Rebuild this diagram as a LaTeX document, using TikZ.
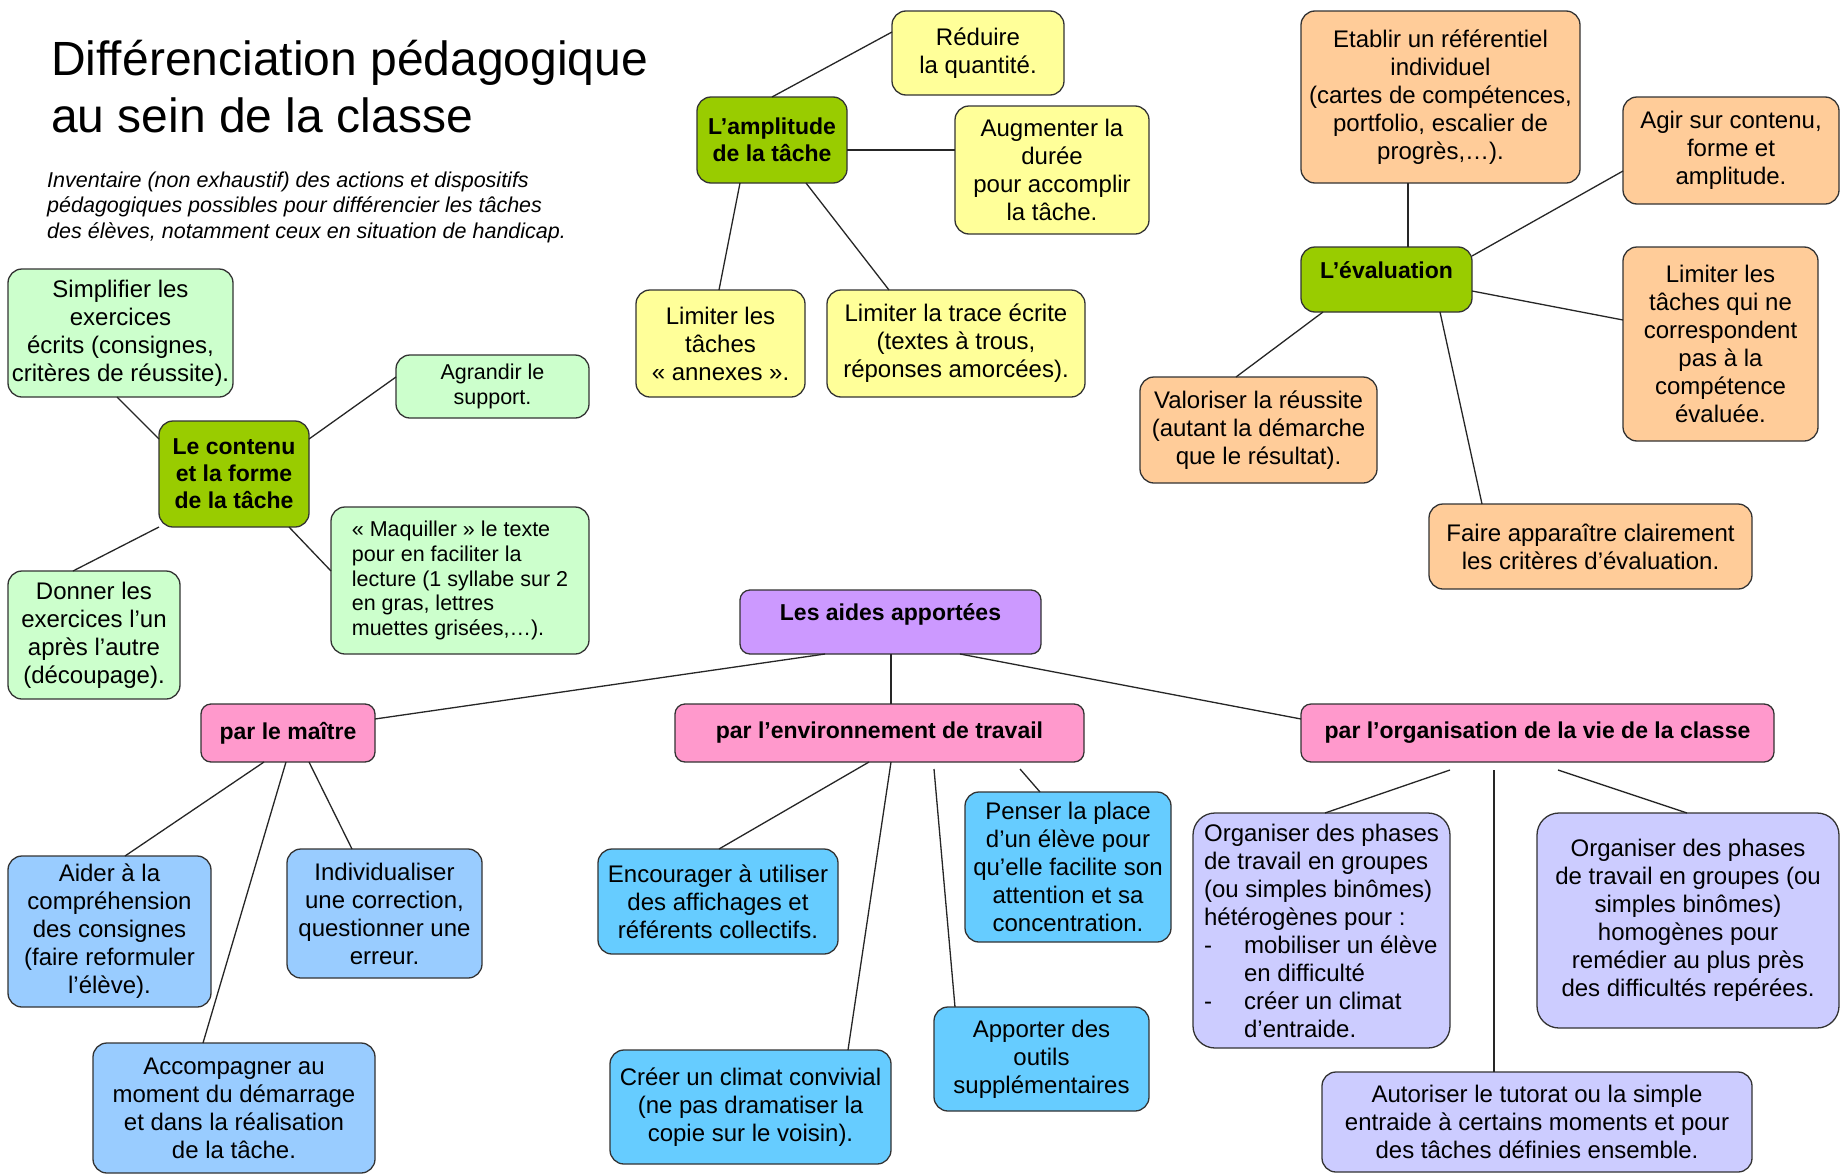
\documentclass[tikz,border=0pt]{standalone}
\usepackage{fontspec}
\setmainfont{Liberation Sans}
\usetikzlibrary{calc}
\definecolor{hub}{HTML}{99CC00}
\definecolor{yel}{HTML}{FFFF99}
\definecolor{ora}{HTML}{FFCC99}
\definecolor{lgr}{HTML}{CCFFCC}
\definecolor{pur}{HTML}{CC99FF}
\definecolor{pnk}{HTML}{FF99CC}
\definecolor{lbl}{HTML}{99CCFF}
\definecolor{cya}{HTML}{66CCFF}
\definecolor{lav}{HTML}{CCCCFF}
\begin{document}
\begin{tikzpicture}[x=1pt,y=-1pt,
  bx/.style={draw=black!80, line width=1.3pt, rounded corners=14pt, align=center, inner sep=2pt,
    font=\fontsize{24}{28}\selectfont},
  hb/.style={bx, fill=hub, font=\fontsize{23}{27}\selectfont\bfseries},
  pk/.style={bx, fill=pnk, rounded corners=10pt, font=\fontsize{23}{27}\selectfont\bfseries},
  conn/.style={draw=black!85, line width=1.3pt},
  wh/.style={minimum width=#1},
  ht/.style={minimum height=#1}]
\useasboundingbox[fill=white] (0,0) rectangle (1847,1175);

% title
\node[anchor=base west, inner sep=0, font=\fontsize{48}{57}\selectfont] (t1) at (51,75) {Différenciation pédagogique};
\node[anchor=base west, inner sep=0, font=\fontsize{48}{57}\selectfont] (t2) at (51,132) {au sein de la classe};
\node[anchor=base west, inner sep=0, font=\fontsize{21.5}{25}\selectfont\itshape] (s1) at (47,187) {Inventaire (non exhaustif) des actions et dispositifs};
\node[anchor=base west, inner sep=0, font=\fontsize{21.5}{25}\selectfont\itshape] (s2) at (47,212) {pédagogiques possibles pour différencier les tâches};
\node[anchor=base west, inner sep=0, font=\fontsize{21.5}{25}\selectfont\itshape] (s3) at (47,238) {des élèves, notamment ceux en situation de handicap.};

% amplitude
\node[hb, wh=150, ht=86] (amp) at (772,140) {L’amplitude\\de la tâche};
\node[bx, fill=yel, wh=172, ht=84] (red) at (978,53) {Réduire\\la quantité.};
\node[bx, fill=yel, wh=194, ht=128] (aug) at (1052,170) {Augmenter la\\durée\\pour accomplir\\la tâche.};
\node[bx, fill=yel, wh=169, ht=107] (limt) at (720.5,343.5) {Limiter les\\tâches\\« annexes ».};
\node[bx, fill=yel, wh=258, ht=107] (limtr) at (956,343.5) {Limiter la trace écrite\\(textes à trous,\\réponses amorcées).};

% contenu
\node[hb, wh=150, ht=106] (cont) at (234,474) {Le contenu\\et la forme\\de la tâche};
\node[bx, fill=lgr, wh=225, ht=128] (simp) at (120.5,333) {Simplifier les\\exercices\\écrits (consignes,\\critères de réussite).};
\node[bx, fill=lgr, wh=193, ht=63, font=\fontsize{21.5}{24.7}\selectfont] (agr) at (492.5,386.5) {Agrandir le\\support.};
\node[bx, fill=lgr, wh=172, ht=128] (don) at (94,635) {Donner les\\exercices l’un\\après l’autre\\(découpage).};
\node[bx, fill=lgr, wh=258, ht=147, align=left, font=\fontsize{21.5}{24.7}\selectfont] (maq) at (460,580.5) {« Maquiller » le texte\\pour en faciliter la\\lecture (1 syllabe sur 2\\en gras, lettres\\muettes grisées,…).};

% evaluation
\node[hb, wh=171, ht=65, text depth=18pt] (eval) at (1386.5,279.5) {L’évaluation};
\node[bx, fill=ora, wh=279, ht=172] (etab) at (1440.5,97) {Etablir un référentiel\\individuel\\(cartes de compétences,\\portfolio, escalier de\\progrès,…).};
\node[bx, fill=ora, wh=216, ht=107] (agir) at (1731,150.5) {Agir sur contenu,\\forme et\\amplitude.};
\node[bx, fill=ora, wh=195, ht=194] (limc) at (1720.5,344) {Limiter les\\tâches qui ne\\correspondent\\pas à la\\compétence\\évaluée.};
\node[bx, fill=ora, wh=237, ht=106] (val) at (1258.5,430) {Valoriser la réussite\\(autant la démarche\\que le résultat).};
\node[bx, fill=ora, wh=323, ht=85] (faire) at (1590.5,546.5) {Faire apparaître clairement\\les critères d’évaluation.};

% aides
\node[bx, fill=pur, rounded corners=10pt, wh=301, ht=64, text depth=20pt, font=\fontsize{23}{27}\selectfont\bfseries] (aides) at (890.5,622) {Les aides apportées};
\node[pk, wh=174, ht=58] (mai) at (288,733) {par le maître};
\node[pk, wh=409, ht=58] (env) at (879.5,733) {par l’environnement de travail};
\node[pk, wh=473, ht=58] (org) at (1537.5,733) {par l’organisation de la vie de la classe};

% maitre
\node[bx, fill=lbl, wh=203, ht=151] (aid) at (109.5,931.5) {Aider à la\\compréhension\\des consignes\\(faire reformuler\\l’élève).};
\node[bx, fill=lbl, wh=195, ht=129] (ind) at (384.5,913.5) {Individualiser\\une correction,\\questionner une\\erreur.};
\node[bx, fill=lbl, wh=282, ht=130] (acc) at (234,1108) {Accompagner au\\moment du démarrage\\et dans la réalisation\\de la tâche.};

% environnement
\node[bx, fill=cya, wh=240, ht=105] (enc) at (718,901.5) {Encourager à utiliser\\des affichages et\\référents collectifs.};
\node[bx, fill=cya, wh=281, ht=114] (cre) at (750.5,1107) {Créer un climat convivial\\(ne pas dramatiser la\\copie sur le voisin).};
\node[bx, fill=cya, wh=215, ht=104] (app) at (1041.5,1059) {Apporter des\\outils\\supplémentaires};
\node[bx, fill=cya, wh=206, ht=150] (pen) at (1068,867) {Penser la place\\d’un élève pour\\qu’elle facilite son\\attention et sa\\concentration.};

% organisation
\node[bx, fill=lav, rounded corners=22pt, wh=257, ht=235, align=left] (het) at (1321.5,930.5) {Organiser des phases\\de travail en groupes\\(ou simples binômes)\\hétérogènes pour :\\\makebox[40pt][l]{-}mobiliser un élève\\\hspace*{40pt}en difficulté\\\makebox[40pt][l]{-}créer un climat\\\hspace*{40pt}d’entraide.};
\node[bx, fill=lav, rounded corners=22pt, wh=302, ht=215] (hom) at (1688,920.5) {Organiser des phases\\de travail en groupes (ou\\simples binômes)\\homogènes pour\\remédier au plus près\\des difficultés repérées.};
\node[bx, fill=lav, wh=430, ht=100] (aut) at (1537,1122) {Autoriser le tutorat ou la simple\\entraide à certains moments et pour\\des tâches définies ensemble.};

% connectors
\draw[conn] ($(amp.center)+(0,-43)$) -- ($(red.center)+(-86,-21)$);
\draw[conn] ($(amp.center)+(75,10)$) -- ($(aug.center)+(-97,-20)$);
\draw[conn] ($(amp.center)+(-32,43)$) -- ($(limt.center)+(-1.5,-53.5)$);
\draw[conn] ($(amp.center)+(34,43)$) -- ($(limtr.center)+(-67,-53.5)$);

\draw[conn] ($(cont.center)+(-75,-35)$) -- ($(simp.center)+(-3.5,64)$);
\draw[conn] ($(cont.center)+(75,-35)$) -- ($(agr.center)+(-96.5,-9.5)$);
\draw[conn] ($(cont.center)+(-75,53)$) -- ($(don.center)+(-21,-64)$);
\draw[conn] ($(cont.center)+(55,53)$) -- ($(maq.center)+(-129,-9.5)$);

\draw[conn] ($(eval.center)+(21.5,-32.5)$) -- ($(etab.center)+(-32.5,86)$);
\draw[conn] ($(eval.center)+(85.5,-23.5)$) -- ($(agir.center)+(-108,20.5)$);
\draw[conn] ($(eval.center)+(85.5,11.5)$) -- ($(limc.center)+(-97.5,-24)$);
\draw[conn] ($(eval.center)+(-63.5,32.5)$) -- ($(val.center)+(-22.5,-53)$);
\draw[conn] ($(eval.center)+(53.5,32.5)$) -- ($(faire.center)+(-108.5,-42.5)$);

\draw[conn] ($(aides.center)+(-65.5,32)$) -- ($(mai.center)+(87,-14)$);
\draw[conn] ($(aides.center)+(0.5,32)$) -- ($(env.center)+(11.5,-29)$);
\draw[conn] ($(aides.center)+(69.5,32)$) -- ($(org.center)+(-236.5,-14)$);

\draw[conn] ($(mai.center)+(-24,29)$) -- ($(aid.center)+(15.5,-75.5)$);
\draw[conn] ($(mai.center)+(-2,29)$) -- ($(acc.center)+(-31,-65)$);
\draw[conn] ($(mai.center)+(21,29)$) -- ($(ind.center)+(-32.5,-64.5)$);

\draw[conn] ($(env.center)+(-10.5,29)$) -- ($(enc.center)+(1,-52.5)$);
\draw[conn] ($(env.center)+(11.5,29)$) -- ($(cre.center)+(97.5,-57)$);
\draw[conn] ($(env.center)+(54.5,36)$) -- ($(app.center)+(-86.5,-52)$);
\draw[conn] ($(env.center)+(140.5,36)$) -- ($(pen.center)+(-28,-75)$);

\draw[conn] ($(org.center)+(-87.5,37)$) -- ($(het.center)+(3.5,-117.5)$);
\draw[conn] ($(org.center)+(-43.5,37)$) -- ($(aut.center)+(-43,-50)$);
\draw[conn] ($(org.center)+(20.5,37)$) -- ($(hom.center)+(-1,-107.5)$);
\end{tikzpicture}
\end{document}
